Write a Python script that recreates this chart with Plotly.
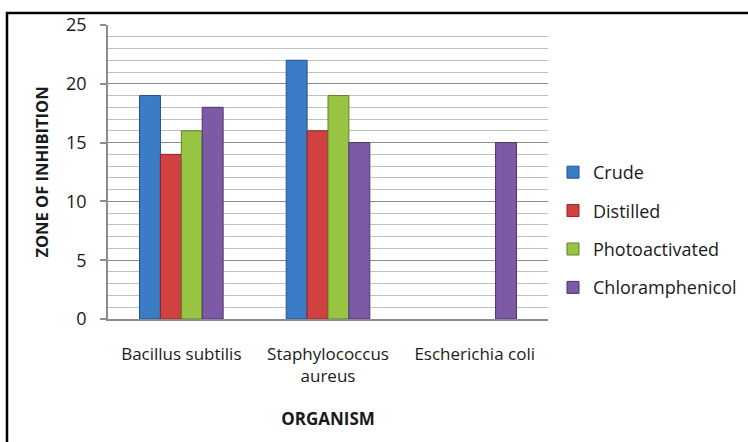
import plotly.graph_objects as go

# Organisms tested and inhibition zones for each treatment
organisms = ["Bacillus subtilis", "Staphylococcus<br>aureus", "Escherichia coli"]
crude = [19, 22, None]
distilled = [14, 16, None]
photoactivated = [16, 19, None]
chloramphenicol = [18, 15, 15]

series = [
    ("Crude", crude, "#3A7CC6", "#24518A"),
    ("Distilled", distilled, "#D14141", "#8E2626"),
    ("Photoactivated", photoactivated, "#98C443", "#5F8227"),
    ("Chloramphenicol", chloramphenicol, "#7C5AA5", "#4A3470"),
]

W, H = 748, 442
L, R, T, B = 108, 200, 25, 123
pw, ph = W - L - R, H - T - B

fig = go.Figure()
for i, (name, vals, fill, edge) in enumerate(series):
    fig.add_trace(go.Bar(
        name=name, x=organisms, y=vals,
        marker=dict(color=fill, line=dict(color=edge, width=1)),
        legendgroup=f"g{i}",
    ))

font = "Open Sans, Noto Sans, Liberation Sans, sans-serif"

fig.update_layout(
    width=W, height=H,
    margin=dict(l=L, r=R, t=T, b=B, pad=0, autoexpand=False),
    paper_bgcolor="white", plot_bgcolor="white",
    barmode="group", bargap=0.43, bargroupgap=0,
    font=dict(family=font, size=17, color="#1a1a1a"),
    xaxis=dict(
        showline=True, linecolor="#8c8c8c", linewidth=1.5,
        ticks="", tickfont=dict(size=17), ticklabelstandoff=19,
        title=dict(text="<b>ORGANISM</b>", font=dict(size=17), standoff=27),
    ),
    yaxis=dict(
        range=[0, 25], dtick=5, showline=True, linecolor="#8c8c8c", linewidth=1.5,
        ticks="outside", ticklen=6, tickcolor="#8c8c8c", tickwidth=1.5,
        tickfont=dict(size=18), ticklabelstandoff=10,
        showgrid=True, gridcolor="#8c8c8c", gridwidth=1.2,
        minor=dict(dtick=1, showgrid=True, gridcolor="#c0c0c0", gridwidth=1),
        zeroline=False,
        title=dict(text="<b>ZONE OF INHIBITION</b>", font=dict(size=16.5), standoff=13),
    ),
    legend=dict(
        x=(553 - L) / pw, xanchor="left", y=(H - B - 230) / ph, yanchor="middle",
        font=dict(size=18), tracegroupgap=12, bgcolor="rgba(0,0,0,0)",
    ),
    shapes=[dict(
        type="rect", xref="paper", yref="paper", layer="above",
        x0=(7 - L) / pw, x1=(752 - L) / pw,
        y0=(H - B - 446) / ph, y1=(H - B - 13) / ph,
        line=dict(color="black", width=2.5), fillcolor="rgba(0,0,0,0)",
    )],
)

fig.write_html("out.html")
